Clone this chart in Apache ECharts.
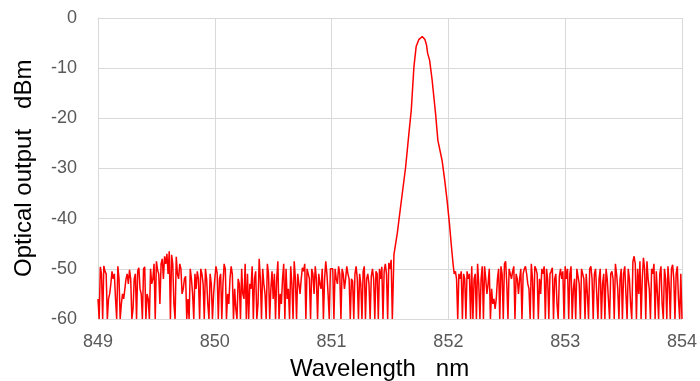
<!DOCTYPE html>
<html>
<head>
<meta charset="utf-8">
<script src="https://cdn.jsdelivr.net/npm/echarts@6/dist/echarts.min.js"></script>
<style>
  html, body { margin: 0; padding: 0; background: #fff; }
  #chart { width: 700px; height: 381px; }
</style>
</head>
<body>
<div id="chart"></div>
<script>
// noise floor left of the peak, sampled every 0.01 nm from 849.00
var leftStart = 849.00;
var step = 0.01;
var noiseLeft = [
  -56,-60,-49.6,-51,-60,-49.4,-50.5,-51,-60,-56,
  -55,-53,-50.5,-52,-51,-56,-60,-49.5,-52,-60,
  -57,-55,-56,-54,-52,-51,-53,-50.2,-52,-60,
  -58,-52,-51,-60,-50.4,-49.8,-54,-55,-60,-50,
  -49.6,-60,-55,-56,-60,-50,-53,-52,-49,-60,
  -48.5,-50.2,-51,-57,-49,-48,-52,-47.5,-49,-47,
  -51,-46.5,-60,-47.2,-49,-57,-60,-47.6,-51,-52,
  -49,-50,-55,-54,-52,-51.5,-60,-56,-60,-50,
  -52,-55,-60,-51,-54,-50.5,-52,-60,-50,-51,
  -53,-60,-50,-52,-57,-60,-51,-53,-60,-55,
  -52,-49.5,-50.8,-60,-52,-51,-60,-53,-49,-50,
  -60,-55,-57,-52,-49.5,-51,-60,-54,-58,-60,
  -52,-53,-60,-50,-55,-56,-49,-60,-51,-60,
  -53,-54,-49.5,-60,-52,-50.5,-60,-57,-48,-52,
  -60,-50,-53,-55,-60,-49,-51,-60,-54,-50.5,
  -56,-51,-60,-52,-48.5,-60,-55,-57,-52,-49,
  -60,-50,-56,-54,-60,-49.5,-53,-60,-48.5,-52,
  -60,-51,-53,-55,-52,-49.8,-50.5,-49,-60,-50,
  -50.2,-52,-60,-50,-51,-55,-49.5,-52,-60,-51,
  -53,-54,-50,-60,-52,-48.5,-51,-55,-60,-50,
  -49.8,-50,-60,-50,-52,-53,-49.5,-51,-60,-50,
  -51,-54,-52,-49.5,-51,-52,-60,-52,-52.5,-60,
  -51,-49.5,-52,-60,-51,-53,-60,-50.5,-49.5,-60,
  -52,-51,-53,-60,-51.5,-50,-52,-60,-50.5,-51,
  -60,-50,-52,-49.6,-60,-50.5,-49,-51,-60,-48.8,
  -50,-48.2,-60
];

// laser peak
var peakWl = [851.534,851.562,851.605,851.634,851.662,851.682,851.705,851.724,851.747,851.776,
  851.799,851.813,851.822,851.839,851.861,851.890,851.910,851.946,851.969,851.989,852.009,852.027];
var peakDb = [-47.1,-43,-35,-29.7,-23,-18.4,-9.7,-5.7,-4.3,-3.7,
  -4.3,-5.4,-7,-8.4,-12.4,-19,-24.4,-28.4,-32.4,-36.4,-41,-45.8];

// noise floor right of the peak, every 0.01 nm from 852.04
var rightStart = 852.04;
var noiseRight = [
  -49,-51,-50.5,-52,-60,-51,
  -52,-50.5,-60,-51,-52,-60,-50.5,-52,-51,-60,
  -49.5,-60,-52,-51,-60,-49,-53,-60,-52,-49.5,
  -60,-49.5,-52,-55,-53,-50,-60,-54,-57,-56,
  -58,-56,-52,-50,-60,-49.5,-51,-60,-49,-48.5,
  -53,-60,-50,-51,-52,-50.5,-49.5,-60,-51,-52,
  -55,-52,-50,-60,-51,-50,-49.5,-51,-53,-54,
  -60,-49,-52,-60,-49.5,-50,-51,-60,-52,-55,
  -50,-51,-49.5,-60,-50,-52,-60,-51,-50.5,-49.8,
  -60,-52,-51,-57,-60,-51.5,-50,-52,-50.5,-60,
  -49.5,-52,-50,-60,-51,-49.5,-60,-54,-52,-60,
  -50,-51.5,-53,-60,-50,-49.8,-52,-60,-51,-55,
  -60,-50,-49.5,-52,-60,-51,-50,-55,-60,-52,
  -50,-60,-53,-51,-60,-50,-52,-56,-60,-51,
  -50.5,-52,-60,-49,-51,-54,-60,-52,-50,-60,
  -51,-49.5,-55,-60,-50,-52,-57,-60,-48.5,-47.5,
  -49,-60,-50,-55,-48.5,-60,-52,-47.8,-50,-60,
  -48.5,-52,-54,-60,-50,-51,-49,-60,-50.5,-55,
  -60,-51,-49.5,-57,-60,-50,-52,-60,-49.5,-53,
  -60,-50,-49.2,-52,-60,-51,-49.5,-56,-60,-51,-60
];

var xTicks = [849, 850, 851, 852, 853, 854];
var yTicks = [-60, -50, -40, -30, -20, -10, 0];

var spectrum = [];
noiseLeft.forEach(function (v, i) {
  spectrum.push([+(leftStart + i * step).toFixed(3), v]);
});
peakWl.forEach(function (w, i) {
  spectrum.push([w, peakDb[i]]);
});
noiseRight.forEach(function (v, i) {
  spectrum.push([+(rightStart + i * step).toFixed(3), v]);
});

var myChart = echarts.init(document.getElementById('chart'));
var gridColor = '#d9d9d9';
var option = {
  backgroundColor: '#ffffff',
  animation: false,
  grid: { left: 98, top: 18, width: 586, height: 301 },
  xAxis: {
    type: 'value',
    min: xTicks[0],
    max: xTicks[xTicks.length - 1],
    interval: 1,
    axisLine: { show: true, lineStyle: { color: gridColor } },
    axisTick: { show: false },
    splitLine: { show: true, lineStyle: { color: gridColor, width: 1 } },
    axisLabel: {
      color: '#595959',
      fontSize: 18,
      fontFamily: 'Liberation Sans, Arial, sans-serif',
      margin: 14
    }
  },
  yAxis: {
    type: 'value',
    min: yTicks[0],
    max: yTicks[yTicks.length - 1],
    interval: 10,
    axisLine: { show: true, lineStyle: { color: gridColor } },
    axisTick: { show: false },
    splitLine: { show: true, lineStyle: { color: gridColor, width: 1 } },
    axisLabel: {
      color: '#595959',
      fontSize: 18,
      fontFamily: 'Liberation Sans, Arial, sans-serif',
      margin: 21
    }
  },
  graphic: [
    {
      type: 'text',
      left: 290,
      top: 357,
      style: {
        text: 'Wavelength   nm',
        fill: '#000',
        font: '24px "Liberation Sans", Arial, sans-serif'
      }
    },
    {
      type: 'text',
      x: 12,
      y: 277,
      rotation: Math.PI / 2,
      style: {
        text: 'Optical output   dBm',
        fill: '#000',
        font: '24px "Liberation Sans", Arial, sans-serif'
      }
    }
  ],
  series: [{
    type: 'line',
    data: spectrum,
    showSymbol: false,
    symbol: 'none',
    clip: true,
    lineStyle: { color: '#ff0000', width: 1.5 }
  }]
};
myChart.setOption(option);
</script>
</body>
</html>
